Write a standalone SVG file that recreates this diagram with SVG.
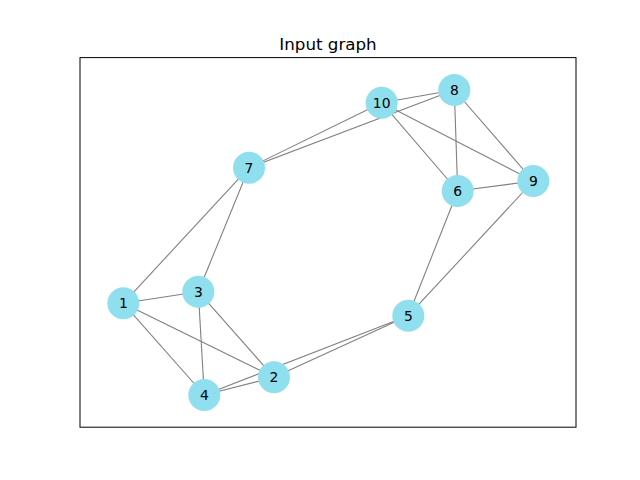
<svg xmlns="http://www.w3.org/2000/svg" width="640" height="480" viewBox="0 0 640 480">
<style>
.e{stroke:#808080;stroke-width:1.1;fill:none}
.n circle{fill:#8fdfee;stroke:none}
.n text{font-family:"DejaVu Sans",sans-serif;font-size:13.9px;fill:#000;text-anchor:middle}
.t{font-family:"DejaVu Sans",sans-serif;font-size:16.7px;fill:#000;text-anchor:middle}
</style>
<rect x="0" y="0" width="640" height="480" fill="#fff"/>
<rect x="80" y="57.6" width="496" height="369.6" fill="none" stroke="#000" stroke-width="1"/>
<text class="t" x="328" y="49.5">Input graph</text>
<g id="edges">
<line class="e" x1="123.3" y1="303.3" x2="249" y2="167.7"/>
<line class="e" x1="123.3" y1="303.3" x2="198.3" y2="291.7"/>
<line class="e" x1="123.3" y1="303.3" x2="274" y2="377.3"/>
<line class="e" x1="123.3" y1="303.3" x2="204.3" y2="395"/>
<line class="e" x1="198.3" y1="291.7" x2="249" y2="167.7"/>
<line class="e" x1="198.3" y1="291.7" x2="204.3" y2="395"/>
<line class="e" x1="198.3" y1="291.7" x2="274" y2="377.3"/>
<line class="e" x1="204.3" y1="395" x2="274" y2="377.3"/>
<line class="e" x1="204.3" y1="395" x2="408.3" y2="315.7"/>
<line class="e" x1="274" y1="377.3" x2="408.3" y2="315.7"/>
<line class="e" x1="408.3" y1="315.7" x2="457.7" y2="191"/>
<line class="e" x1="408.3" y1="315.7" x2="533.3" y2="181"/>
<line class="e" x1="457.7" y1="191" x2="533.3" y2="181"/>
<line class="e" x1="457.7" y1="191" x2="454.3" y2="90"/>
<line class="e" x1="457.7" y1="191" x2="381.7" y2="102.7"/>
<line class="e" x1="249" y1="167.7" x2="381.7" y2="102.7"/>
<line class="e" x1="249" y1="167.7" x2="454.3" y2="90"/>
<line class="e" x1="381.7" y1="102.7" x2="454.3" y2="90"/>
<line class="e" x1="381.7" y1="102.7" x2="533.3" y2="181"/>
<line class="e" x1="454.3" y1="90" x2="533.3" y2="181"/>
</g>
<g id="node1" class="n"><circle cx="123.3" cy="303.3" r="16"/><text x="123.3" y="308.3">1</text></g>
<g id="node2" class="n"><circle cx="274" cy="377.3" r="16"/><text x="274" y="382.3">2</text></g>
<g id="node3" class="n"><circle cx="198.3" cy="291.7" r="16"/><text x="198.3" y="296.7">3</text></g>
<g id="node4" class="n"><circle cx="204.3" cy="395" r="16"/><text x="204.3" y="400">4</text></g>
<g id="node5" class="n"><circle cx="408.3" cy="315.7" r="16"/><text x="408.3" y="320.7">5</text></g>
<g id="node6" class="n"><circle cx="457.7" cy="191" r="16"/><text x="457.7" y="196">6</text></g>
<g id="node7" class="n"><circle cx="249" cy="167.7" r="16"/><text x="249" y="172.7">7</text></g>
<g id="node8" class="n"><circle cx="454.3" cy="90" r="16"/><text x="454.3" y="95">8</text></g>
<g id="node9" class="n"><circle cx="533.3" cy="181" r="16"/><text x="533.3" y="186">9</text></g>
<g id="node10" class="n"><circle cx="381.7" cy="102.7" r="16"/><text x="381.7" y="107.7">10</text></g>
</svg>
